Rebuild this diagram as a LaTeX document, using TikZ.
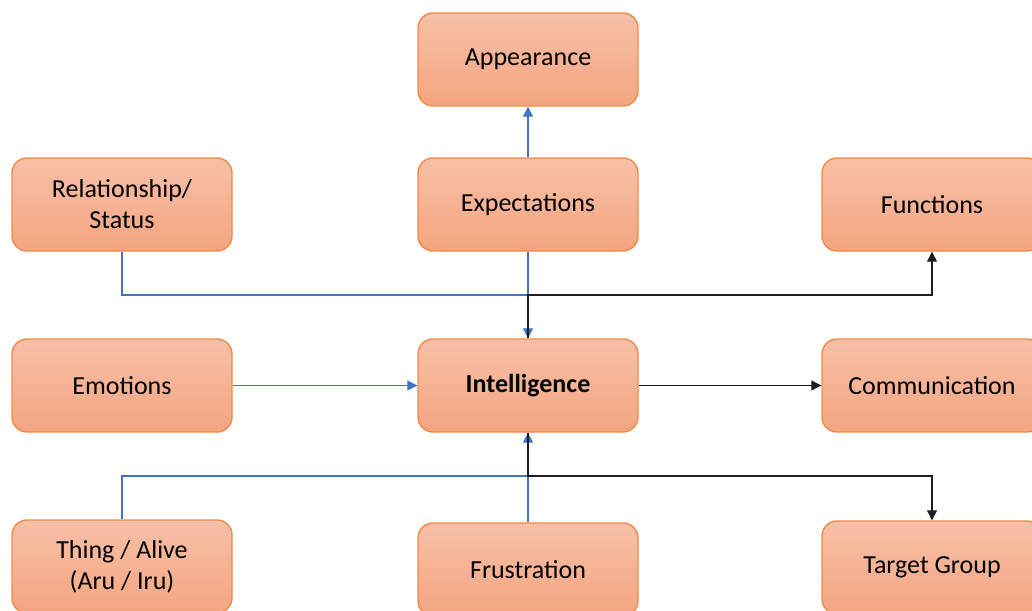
\documentclass[tikz,border=0pt]{standalone}
\usepackage{fontspec}
\setmainfont{Carlito}
\usepackage{tikz}
\usetikzlibrary{arrows.meta}

\definecolor{boxtop}{RGB}{247,192,168}
\definecolor{boxbot}{RGB}{244,165,128}
\definecolor{boxline}{RGB}{240,138,72}
\definecolor{linkblue}{RGB}{68,114,196}
\definecolor{linkdark}{RGB}{30,30,30}

\begin{document}
\begin{tikzpicture}[x=0.5pt, y=-0.5pt,
        box/.style={draw=boxline, line width=0.7pt, rounded corners=7.5pt,
            top color=boxtop, bottom color=boxbot, minimum width=110pt,
            minimum height=46.5pt, align=center, inner sep=0pt,
            font=\fontsize{13}{15.5}\selectfont},
        bluelink/.style={draw=linkblue, line width=0.6pt},
        darklink/.style={draw=linkdark, line width=0.6pt},
        tip/.style={-{Triangle[length=5pt,width=5pt]}}]

        \useasboundingbox (0,0) rectangle (1032,610);

        % boxes
        \node[box] (appear) at (528,59.5) {Appearance};
        \node[box] (relat) at (122,204.5) {Relationship/\\Status};
        \node[box] (expect) at (528,204.5) {Expectations};
        \node[box] (func) at (932,204.5) {Functions};
        \node[box] (emot) at (122,385.5) {Emotions};
        \node[box] (intel) at (528,385.5) {\textbf{Intelligence}};
        \node[box] (comm) at (932,385.5) {Communication};
        \node[box] (thing) at (122,566.5) {Thing / Alive\\(Aru / Iru)};
        \node[box] (frust) at (528,569.5) {Frustration};
        \node[box] (target) at (932,567.5) {Target Group};

        \coordinate (jtop) at (528,295);
        \coordinate (jbot) at (528,476);

        % incoming
        \draw[bluelink,tip] (expect.north) -- (appear.south);
        \draw[bluelink] (relat.south) |- (jtop);
        \draw[bluelink,tip] (expect.south) -- (intel.north);
        \draw[bluelink,tip] (emot.east) -- (intel.west);
        \draw[bluelink] (thing.north) |- (jbot);
        \draw[bluelink,tip] (frust.north) -- (intel.south);

        % outgoing
        \draw[darklink,tip] (intel.north) -- (jtop) -| (func.south);
        \draw[darklink,tip] (intel.east) -- (comm.west);
        \draw[darklink,tip] (intel.south) -- (jbot) -| (target.north);
\end{tikzpicture}
\end{document}
